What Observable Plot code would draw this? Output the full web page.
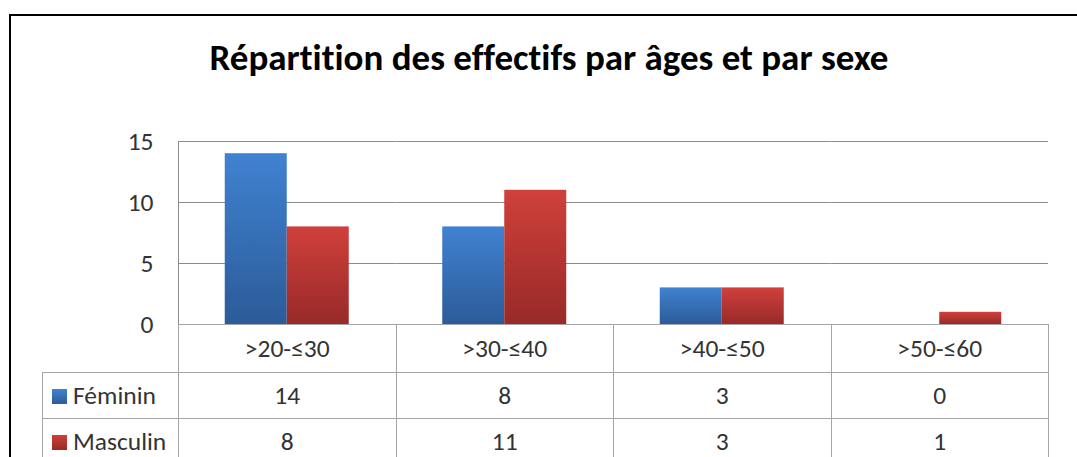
<!DOCTYPE html>
<html>
<head>
<meta charset="utf-8">
<script src="https://cdn.jsdelivr.net/npm/d3@7"></script>
<script src="https://cdn.jsdelivr.net/npm/@observablehq/plot@0.6"></script>
<style>
  html, body { margin: 0; padding: 0; width: 1077px; height: 457px; overflow: hidden; background: #fff; }
  #root { position: relative; width: 1077px; height: 457px; overflow: hidden;
          font-family: Carlito, Calibri, Lato, "Open Sans", sans-serif; color: #333;
          font-variant-ligatures: none; font-feature-settings: "liga" 0, "clig" 0; }
  #frame { position: absolute; left: 9px; top: 14px; width: 1200px; height: 600px;
           border-left: 2px solid #000; border-top: 2px solid #000; }
  #title { position: absolute; left: 0; width: 1098px; top: 38px; text-align: center;
           font-weight: bold; font-size: 37px; line-height: 40px; color: #000; }
  #chart { position: absolute; left: 0; top: 121px; }
  #chart svg text { fill: #333; }
  #tbl { position: absolute; left: 42px; top: 324px; border-collapse: collapse; font-size: 25.5px;
         table-layout: fixed; }
  #tbl td { border: 1px solid #a6a6a6; text-align: center; padding: 0; box-sizing: border-box; white-space: nowrap; }
  #tbl td.blank { border-left: none; border-top: none; }
  #tbl tr.hdr td { height: 48px; }
  #tbl tr.row td { height: 46px; }
  #tbl td.lab { text-align: left; padding-left: 9px; }
  #tbl .sw { display: inline-block; width: 15px; height: 15px; margin-right: 6px; vertical-align: 0px; }
</style>
</head>
<body>
<div id="root">
  <div id="frame"></div>
  <div id="title"></div>
  <div id="chart"></div>
  <table id="tbl"></table>
</div>
<script>
const titleText = "Répartition des effectifs par âges et par sexe";
const categories = [">20-≤30", ">30-≤40", ">40-≤50", ">50-≤60"];
const series = ["Féminin", "Masculin"];
const feminin = [14, 8, 3, 0];
const masculin = [8, 11, 3, 1];
const yTicks = [0, 5, 10, 15];
const seriesColors = [["#4082d2", "#2c5b98"], ["#d0403b", "#982a28"]];

const seriesValues = [feminin, masculin];
const rows = [];
categories.forEach((c, i) => series.forEach((s, j) => rows.push({category: c, sex: s, value: seriesValues[j][i]})));

document.getElementById("title").textContent = titleText;

const chart = Plot.plot({
  width: 1077,
  height: 204,
  marginLeft: 178,
  marginRight: 29,
  marginTop: 20,
  marginBottom: 1,
  style: {fontFamily: "Carlito, Calibri, Lato, 'Open Sans', sans-serif", fontSize: "25.5px", color: "#8c8c8c", background: "transparent", overflow: "visible"},
  facet: {data: rows, x: "category"},
  fx: {domain: categories, axis: null, padding: 0, round: false},
  x: {domain: series, axis: null, paddingInner: 0, paddingOuter: 0.754, round: false},
  y: {domain: [0, 15], ticks: yTicks, tickSize: 0, tickPadding: 25, label: null, line: true, tickFormat: d => d},
  color: {domain: series, range: series.map((s, i) => `url(#grad${i})`)},
  marks: [
    Plot.ruleY(yTicks, {stroke: "#8c8c8c", strokeWidth: 1}),
    Plot.barY(rows, {x: "sex", y: "value", fill: "sex"})
  ]
});

const svgNS = "http://www.w3.org/2000/svg";
const defs = document.createElementNS(svgNS, "defs");
seriesColors.forEach((c, i) => {
  const g = document.createElementNS(svgNS, "linearGradient");
  g.setAttribute("id", "grad" + i);
  g.setAttribute("x1", "0"); g.setAttribute("y1", "0"); g.setAttribute("x2", "0"); g.setAttribute("y2", "1");
  c.forEach((col, k) => {
    const st = document.createElementNS(svgNS, "stop");
    st.setAttribute("offset", k === 0 ? "0" : "1");
    st.setAttribute("stop-color", col);
    g.appendChild(st);
  });
  defs.appendChild(g);
});
chart.insertBefore(defs, chart.firstChild);
document.getElementById("chart").appendChild(chart);

// Data table below the chart, aligned on the chart's fx scale
const fx = chart.scale("fx");
const step = fx.step != null ? fx.step : fx.bandwidth;
const tableLeft = 42;
const labelWidth = fx.range[0] - tableLeft;
const tbl = document.getElementById("tbl");
const colgroup = document.createElement("colgroup");
[labelWidth, ...categories.map(() => step)].forEach(w => {
  const col = document.createElement("col");
  col.style.width = w + "px";
  colgroup.appendChild(col);
});
tbl.appendChild(colgroup);
tbl.style.width = (labelWidth + step * categories.length) + "px";
const hdr = document.createElement("tr");
hdr.className = "hdr";
const blank = document.createElement("td");
blank.className = "blank";
hdr.appendChild(blank);
categories.forEach(c => { const td = document.createElement("td"); td.textContent = c; hdr.appendChild(td); });
tbl.appendChild(hdr);
series.forEach((s, j) => {
  const tr = document.createElement("tr");
  tr.className = "row";
  const lab = document.createElement("td");
  lab.className = "lab";
  const sw = document.createElement("span");
  sw.className = "sw";
  sw.style.background = `linear-gradient(${seriesColors[j][0]}, ${seriesColors[j][1]})`;
  lab.appendChild(sw);
  lab.appendChild(document.createTextNode(s));
  tr.appendChild(lab);
  seriesValues[j].forEach(v => { const td = document.createElement("td"); td.textContent = v; tr.appendChild(td); });
  tbl.appendChild(tr);
});
</script>
</body>
</html>
